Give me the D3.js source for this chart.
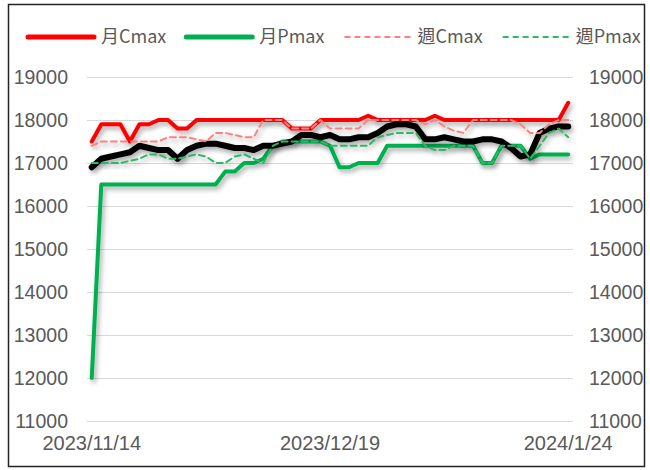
<!DOCTYPE html>
<html>
<head>
<meta charset="utf-8">
<script src="https://cdn.jsdelivr.net/npm/d3@7"></script>
<style>
    body { margin: 0; background: #fff; }
    svg { display: block; }
</style>
</head>
<body>
<svg></svg>
<script>
'use strict';

// trading days, 2023/11/14 .. 2024/1/24
var dates = [
    '2023/11/14', '2023/11/15', '2023/11/16', '2023/11/17', '2023/11/20',
    '2023/11/21', '2023/11/22', '2023/11/23', '2023/11/24', '2023/11/27',
    '2023/11/28', '2023/11/29', '2023/11/30', '2023/12/1', '2023/12/4',
    '2023/12/5', '2023/12/6', '2023/12/7', '2023/12/8', '2023/12/11',
    '2023/12/12', '2023/12/13', '2023/12/14', '2023/12/15', '2023/12/18',
    '2023/12/19', '2023/12/20', '2023/12/21', '2023/12/22', '2023/12/25',
    '2023/12/26', '2023/12/27', '2023/12/28', '2023/12/29', '2024/1/2',
    '2024/1/3', '2024/1/4', '2024/1/5', '2024/1/8', '2024/1/9',
    '2024/1/10', '2024/1/11', '2024/1/12', '2024/1/15', '2024/1/16',
    '2024/1/17', '2024/1/18', '2024/1/19', '2024/1/22', '2024/1/23',
    '2024/1/24'
];

var monthCmax = [
    17500, 17900, 17900, 17900, 17500, 17900, 17900, 18000, 18000, 17800,
    17800, 18000, 18000, 18000, 18000, 18000, 18000, 18000, 18000, 18000,
    18000, 17800, 17800, 17800, 18000, 18000, 18000, 18000, 18000, 18100,
    18000, 18000, 18000, 18000, 18000, 18000, 18100, 18000, 18000, 18000,
    18000, 18000, 18000, 18000, 18000, 18000, 18000, 18000, 18000, 18000,
    18400
];

var monthPmax = [
    12000, 16500, 16500, 16500, 16500, 16500, 16500, 16500, 16500, 16500,
    16500, 16500, 16500, 16500, 16800, 16800, 17000, 17000, 17100, 17400,
    17500, 17500, 17500, 17500, 17500, 17400, 16900, 16900, 17000, 17000,
    17000, 17400, 17400, 17400, 17400, 17400, 17400, 17400, 17400, 17400,
    17400, 17000, 17000, 17400, 17400, 17400, 17100, 17200, 17200, 17200,
    17200
];

var weekCmax = [
    17400, 17500, 17500, 17500, 17500, 17500, 17500, 17500, 17600, 17600,
    17600, 17550, 17500, 17700, 17700, 17650, 17600, 17600, 18000, 18000,
    18000, 17800, 17800, 17800, 18000, 17800, 17800, 17800, 17800, 18000,
    18000, 18000, 18000, 18000, 18000, 17900, 18000, 17850, 17750, 17700,
    18000, 18000, 18000, 18000, 18000, 17900, 17700, 17700, 17900, 18000,
    18000
];

var weekPmax = [
    17000, 17000, 17000, 17000, 17050, 17100, 17200, 17200, 17100, 17100,
    17150, 17200, 17150, 17000, 17000, 17150, 17200, 17100, 17000, 17400,
    17500, 17500, 17500, 17500, 17500, 17400, 17400, 17400, 17400, 17400,
    17600, 17650, 17700, 17700, 17700, 17400, 17300, 17300, 17400, 17400,
    17400, 17000, 17000, 17400, 17400, 17400, 17100, 17400, 17700, 17800,
    17600
];

// unnamed black series (no legend entry)
var blackLine = [
    16900, 17100, 17150, 17200, 17250, 17400, 17350, 17300, 17300, 17100,
    17300, 17400, 17450, 17450, 17400, 17350, 17350, 17300, 17400, 17400,
    17450, 17500, 17650, 17650, 17600, 17650, 17550, 17550, 17600, 17600,
    17700, 17850, 17900, 17900, 17850, 17550, 17550, 17600, 17550, 17500,
    17500, 17550, 17550, 17500, 17350, 17150, 17200, 17700, 17800, 17850,
    17850
];

var yTicks = [11000, 12000, 13000, 14000, 15000, 16000, 17000, 18000, 19000];
var xTickLabels = ['2023/11/14', '2023/12/19', '2024/1/24'];

var legendNames = ['月Cmax', '月Pmax', '週Cmax', '週Pmax'];

var width = 650;
var height = 470;
var plotLeft = 87;
var plotRight = 573;
var plotTop = 77;
var plotBottom = 421;
var labelColor = '#595959';
var numFont = '"Liberation Sans", Arial, sans-serif';
var cjkFont = '"Noto Sans CJK TC", "Noto Sans", sans-serif';

var svg = d3.select('svg')
    .attr('width', width)
    .attr('height', height);

var defs = svg.append('defs');
defs.append('filter')
    .attr('id', 'shadow')
    .attr('x', '-10%').attr('y', '-10%')
    .attr('width', '120%').attr('height', '130%')
    .append('feDropShadow')
    .attr('dx', 2)
    .attr('dy', 3)
    .attr('stdDeviation', 2.5)
    .attr('flood-color', '#000')
    .attr('flood-opacity', 0.35);

svg.append('rect')
    .attr('x', 8.5).attr('y', 4.5)
    .attr('width', 636).attr('height', 462)
    .attr('fill', '#fff')
    .attr('stroke', '#222')
    .attr('stroke-width', 1.5);

var x = d3.scaleBand()
    .domain(dates)
    .range([plotLeft, plotRight]);

var y = d3.scaleLinear()
    .domain([11000, 19000])
    .range([plotBottom, plotTop]);

function cx(d) { return x(d) + x.bandwidth() / 2; }

// gridlines
var grid = svg.append('g')
    .attr('transform', 'translate(' + plotLeft + ',0)')
    .call(d3.axisLeft(y).tickValues(yTicks).tickSize(-(plotRight - plotLeft)).tickFormat(''));
grid.select('.domain').remove();
grid.selectAll('line').attr('stroke', '#d9d9d9').attr('stroke-width', 1);

// left axis
var leftAxis = svg.append('g')
    .attr('transform', 'translate(' + plotLeft + ',0)')
    .call(d3.axisLeft(y).tickValues(yTicks).tickSize(0).tickPadding(19).tickFormat(d3.format('d')));
leftAxis.select('.domain').remove();
leftAxis.selectAll('text')
    .attr('fill', labelColor)
    .style('font-family', numFont)
    .style('font-size', '19.5px');

// right axis
var rightAxis = svg.append('g')
    .attr('transform', 'translate(' + plotRight + ',0)')
    .call(d3.axisRight(y).tickValues(yTicks).tickSize(0).tickPadding(16).tickFormat(d3.format('d')));
rightAxis.select('.domain').remove();
rightAxis.selectAll('text')
    .attr('fill', labelColor)
    .style('font-family', numFont)
    .style('font-size', '19.5px');

// bottom axis
var bottomAxis = svg.append('g')
    .attr('transform', 'translate(0,' + plotBottom + ')')
    .call(d3.axisBottom(x).tickValues(xTickLabels).tickSize(0).tickPadding(15));
bottomAxis.select('.domain').remove();
bottomAxis.selectAll('text')
    .attr('fill', labelColor)
    .style('font-family', numFont)
    .style('font-size', '20px');

var series = [
    { values: monthCmax, color: '#ff0000', width: 4, dash: null },
    { values: monthPmax, color: '#00b050', width: 4, dash: null },
    { values: blackLine, color: '#000000', width: 6, dash: null },
    { values: weekCmax, color: '#ff8080', width: 2, dash: '6,4' },
    { values: weekPmax, color: '#2fb866', width: 2, dash: '6,4' }
];

var line = d3.line()
    .x(function (d, i) { return cx(dates[i]); })
    .y(function (d) { return y(d); });

svg.append('g')
    .selectAll('path')
    .data(series)
    .enter()
    .append('path')
    .attr('d', function (s) { return line(s.values); })
    .attr('fill', 'none')
    .attr('stroke', function (s) { return s.color; })
    .attr('stroke-width', function (s) { return s.width; })
    .attr('stroke-dasharray', function (s) { return s.dash; })
    .attr('stroke-linejoin', 'round')
    .attr('stroke-linecap', 'round')
    .attr('filter', 'url(#shadow)');

// legend
var legend = svg.append('g');
var lx = 28;
var legendY = 37;
legendNames.forEach(function (name, i) {
    var s = [series[0], series[1], series[3], series[4]][i];
    legend.append('line')
        .attr('x1', lx).attr('x2', lx + 66)
        .attr('y1', legendY).attr('y2', legendY)
        .attr('stroke', s.color)
        .attr('stroke-width', s.dash ? 2 : 5)
        .attr('stroke-dasharray', s.dash)
        .attr('stroke-linecap', s.dash ? 'butt' : 'round');
    var t = legend.append('text')
        .attr('x', lx + 73)
        .attr('y', legendY)
        .attr('dy', '0.35em')
        .attr('fill', labelColor)
        .style('font-family', cjkFont)
        .style('font-size', '18px')
        .text(name);
    lx = lx + 73 + t.node().getComputedTextLength() + 20;
});
</script>
</body>
</html>
